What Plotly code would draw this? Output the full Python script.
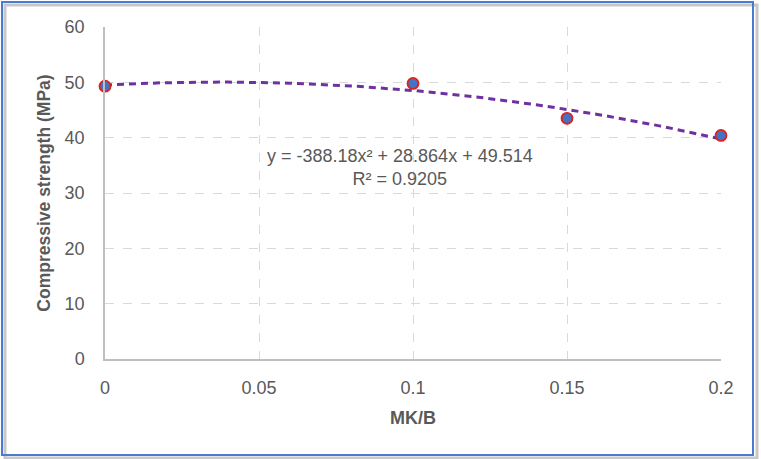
import numpy as np
import plotly.graph_objects as go

mk_b = [0, 0.1, 0.15, 0.2]
strength = [49.3, 49.8, 43.5, 40.4]
trend_coefs = [-388.18, 28.864, 49.514]
r_squared = 0.9205
x_ticks = [0, 0.05, 0.1, 0.15, 0.2]
x_tick_labels = ["0", "0.05", "0.1", "0.15", "0.2"]
y_ticks = [0, 10, 20, 30, 40, 50, 60]

W, H = 761, 459
L, R, T, B = 105, 40, 27, 100
pw, ph = W - L - R, H - T - B

def px(xp):
    return (xp - L) / pw

def py(yp):
    return (H - B - yp) / ph

xs = np.linspace(0, 0.2, 101)
ys = np.polyval(trend_coefs, xs)

FONT = "Liberation Sans, Arial, Helvetica"
GREY = "#595959"

fig = go.Figure()
fig.add_trace(go.Scatter(x=xs, y=ys, mode="lines",
                         line=dict(color="#7030A0", width=3, dash="7px,5px"),
                         hoverinfo="skip", showlegend=False, cliponaxis=False))
fig.add_trace(go.Scatter(x=mk_b, y=strength, mode="markers",
                         marker=dict(size=11, color="#4472C4",
                                     line=dict(color="#E0201B", width=1.8)),
                         showlegend=False, cliponaxis=False))

eq = f"y = {trend_coefs[0]}x² + {trend_coefs[1]}x + {trend_coefs[2]}<br>R² = {r_squared}"
fig.add_annotation(x=px(400), y=py(168), xref="paper", yref="paper",
                   text=eq, showarrow=False, align="center",
                   font=dict(size=18, color=GREY, family=FONT))

# outer border with shadow
fig.add_shape(type="rect", xref="paper", yref="paper",
              x0=px(5), x1=px(757), y0=py(5), y1=py(458),
              line=dict(color="#C8C8C8", width=3), fillcolor="rgba(0,0,0,0)", layer="below")
fig.add_shape(type="rect", xref="paper", yref="paper",
              x0=px(2), x1=px(753), y0=py(2), y1=py(455),
              line=dict(color="#4A7BD0", width=2), fillcolor="rgba(0,0,0,0)", layer="below")

fig.update_layout(
    width=W, height=H,
    margin=dict(l=L, r=R, t=T, b=B),
    paper_bgcolor="white", plot_bgcolor="white",
    font=dict(family=FONT, color=GREY),
    xaxis=dict(range=[0, 0.2], tickvals=x_ticks, ticktext=x_tick_labels,
               showgrid=True, gridcolor="#D9D9D9", griddash="dash", gridwidth=1,
               showline=True, linecolor="#BFBFBF", linewidth=1.5,
               zeroline=False, ticks="", tickfont=dict(size=18, color=GREY),
               ticklabelstandoff=12,
               title=dict(text="<b>MK/B</b>", font=dict(size=18, color=GREY), standoff=14)),
    yaxis=dict(range=[0, 60], tickvals=y_ticks,
               showgrid=True, gridcolor="#D9D9D9", griddash="dash", gridwidth=1,
               showline=True, linecolor="#BFBFBF", linewidth=1.5,
               zeroline=False, ticks="", tickfont=dict(size=18, color=GREY),
               ticklabelstandoff=15,
               title=dict(text="<b>Compressive strength (MPa)</b>", font=dict(size=17.5, color=GREY), standoff=9)),
)

fig.write_html("out.html", config={"displayModeBar": False},
               post_script="document.body.style.margin='0';document.body.style.overflow='hidden';")
